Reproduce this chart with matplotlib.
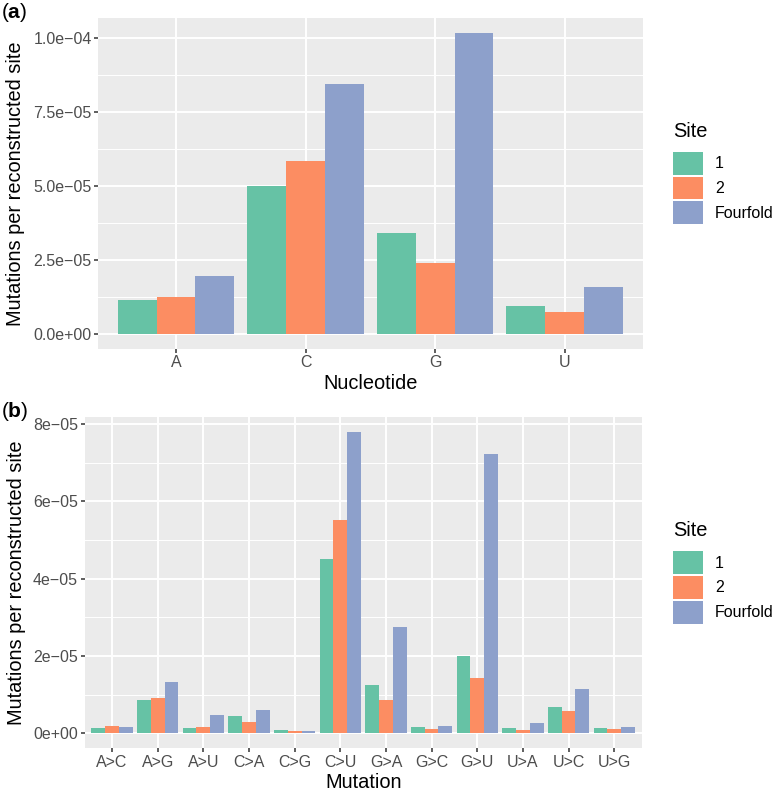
import numpy as np
import matplotlib
matplotlib.use("Agg")
import matplotlib.pyplot as plt
import matplotlib.patches as patches
from matplotlib.ticker import MultipleLocator, FuncFormatter

plt.rcParams['font.family'] = ['Liberation Sans', 'DejaVu Sans']
plt.rcParams['mathtext.fontset'] = 'custom'
plt.rcParams['mathtext.rm'] = 'Liberation Sans'
plt.rcParams['mathtext.bf'] = 'Liberation Sans:bold'

# data
sites = ['1', '2', 'Fourfold']
site_colors = ['#66C2A5', '#FC8D62', '#8DA0CB']

nucleotides = ['A', 'C', 'G', 'U']
nuc_site1 = [1.125e-5, 5.00e-5, 3.39e-5, 0.946e-5]
nuc_site2 = [1.24e-5, 5.82e-5, 2.375e-5, 0.72e-5]
nuc_four = [1.96e-5, 8.42e-5, 1.0145e-4, 1.57e-5]

mutations = ['A>C', 'A>G', 'A>U', 'C>A', 'C>G', 'C>U',
             'G>A', 'G>C', 'G>U', 'U>A', 'U>C', 'U>G']
mut_site1 = [1.3e-6, 8.7e-6, 1.3e-6, 4.4e-6, 0.86e-6, 4.50e-5,
             1.25e-5, 1.7e-6, 1.99e-5, 1.4e-6, 6.8e-6, 1.4e-6]
mut_site2 = [1.8e-6, 9.1e-6, 1.55e-6, 2.85e-6, 0.5e-6, 5.52e-5,
             8.5e-6, 1.0e-6, 1.44e-5, 0.8e-6, 5.7e-6, 1.1e-6]
mut_four = [1.6e-6, 1.33e-5, 4.7e-6, 5.95e-6, 0.6e-6, 7.78e-5,
            2.74e-5, 1.9e-6, 7.22e-5, 2.7e-6, 1.155e-5, 1.6e-6]

W, H = 774, 793
fig = plt.figure(figsize=(W / 100, H / 100), dpi=100)

tick_fs = 11.5
title_fs = 14.4


def ggplot_bars(ax, cats, series, major, fmt):
    x = np.arange(len(cats))
    for k, (vals, col) in enumerate(zip(series, site_colors)):
        ax.bar(x + (k - 1) * 0.3, vals, width=0.3, color=col, zorder=3)
    top = max(max(s) for s in series)
    ax.set_xlim(-0.6, len(cats) - 0.4)
    ax.set_ylim(-0.05 * top, 1.05 * top)
    ax.set_xticks(x)
    ax.set_xticklabels(cats)
    ax.yaxis.set_major_locator(MultipleLocator(major))
    ax.yaxis.set_minor_locator(MultipleLocator(major / 2))
    ax.yaxis.set_major_formatter(FuncFormatter(
        lambda v, p: fmt.format(v).replace('-', '\u2212')))
    ax.set_facecolor('#EBEBEB')
    for s in ax.spines.values():
        s.set_visible(False)
    ax.grid(which='major', color='white', lw=1.4, zorder=0)
    ax.grid(which='minor', axis='y', color='white', lw=0.7, zorder=0)
    ax.set_axisbelow(True)
    ax.tick_params(which='major', length=3.2, width=1.1, color='#333333',
                   labelsize=tick_fs, labelcolor='#4D4D4D', pad=1.6)
    ax.tick_params(which='minor', length=0)


def site_legend(ax, key_left, key_top, title_y):
    handles = [patches.Patch(facecolor=c, edgecolor='none') for c in site_colors]
    ax.legend(handles, sites, loc='upper left',
              bbox_to_anchor=(key_left / W, 1 - key_top / H),
              bbox_transform=fig.transFigure, frameon=False,
              fontsize=tick_fs, handlelength=1.87, handleheight=1.83,
              handletextpad=0.73, labelspacing=0.12, borderpad=0,
              borderaxespad=0)
    fig.text(672.7 / W, 1 - title_y / H, 'Site', fontsize=title_fs,
             ha='left', va='center')


# panel (a)
ax1 = fig.add_axes([98.3 / W, 1 - 348.7 / H, (642.5 - 98.3) / W, 330.4 / H])
ggplot_bars(ax1, nucleotides, [nuc_site1, nuc_site2, nuc_four], 2.5e-5, '{:.1e}')
ax1.set_xlabel('Nucleotide', fontsize=title_fs, va='center')
ax1.xaxis.set_label_coords(0.5, -0.105)
ax1.set_ylabel('Mutations per reconstructed site', fontsize=title_fs, va='center')
ax1.yaxis.set_label_coords(-0.152, 0.5)
site_legend(ax1, 673.3, 151.7, 131.7)

# panel (b)
ax2 = fig.add_axes([84.6 / W, 1 - 748.3 / H, (641.7 - 84.6) / W, 331 / H])
ggplot_bars(ax2, mutations, [mut_site1, mut_site2, mut_four], 2e-5, '{:.0e}')
ax2.set_xlabel('Mutation', fontsize=title_fs, va='center')
ax2.xaxis.set_label_coords(0.5, -0.103)
ax2.set_ylabel('Mutations per reconstructed site', fontsize=title_fs, va='center')
ax2.yaxis.set_label_coords(-0.123, 0.5)
site_legend(ax2, 673.3, 551.0, 531.0)

fig.text(0.001, 0.999, r'($\mathbf{a}$)', fontsize=15, ha='left', va='top')
fig.text(0.001, 1 - 400 / H, r'($\mathbf{b}$)', fontsize=15, ha='left', va='top')

fig.savefig('out.png', dpi=100)
